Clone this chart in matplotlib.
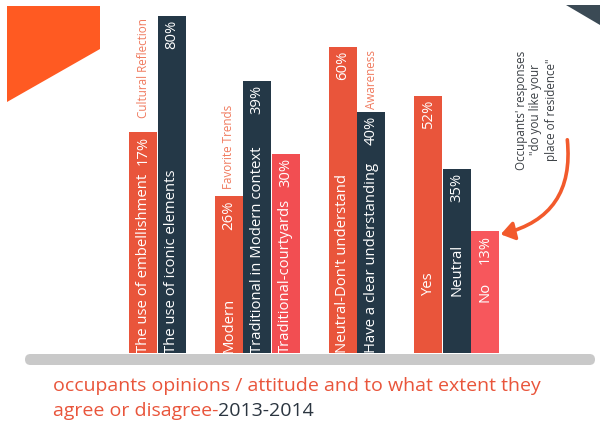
import matplotlib
matplotlib.use("Agg")
import matplotlib.pyplot as plt
from matplotlib.patches import Polygon, FancyBboxPatch, FancyArrowPatch

# ---------------- data ----------------
group_names = ["Cultural Reflection", "Favorite Trends", "Awareness"]
bar_names = ["The use of embellishment", "The use of iconic elements",
             "Modern", "Traditional in Modern context", "Traditional-courtyards",
             "Neutral-Don't understand", "Have a clear understanding",
             "Yes", "Neutral", "No"]
percent_labels = ["17%", "80%", "26%", "39%", "30%", "60%", "40%", "52%", "35%", "13%"]
# visual bar lengths as drawn in the infographic (not proportional to %)
bar_lengths = [221, 337, 157, 272, 199, 306, 241, 257, 184, 122]
bar_slots = [0, 1, 3, 4, 5, 7, 8, 10, 11, 12]
name_lift = [1, 1, 1, 1, 1, 1, 1, 58, 58, 52]
group_label_bar = [0, 2, 6]
group_label_gap = [15, 8, 4]
caption_1 = "occupants opinions / attitude and to what extent they"
caption_2a = "agree or disagree-"
caption_2b = "2013-2014"
annotation = "Occupants' responses\n\"do you like your\nplace of residence\""

ORANGE = "#E9553B"
DARK = "#243847"
RED = "#F24E52"
bar_colors = [ORANGE, DARK, ORANGE, DARK, RED, ORANGE, DARK, ORANGE, DARK, "#F7575C"]

FONT = "Open Sans"

W, H = 600, 427
fig = plt.figure(figsize=(6, 4.27), dpi=100)

# background / decoration axes in pixel coordinates
bg = fig.add_axes([0, 0, 1, 1], zorder=0)
bg.set_xlim(0, W)
bg.set_ylim(H, 0)
bg.axis("off")

bg.add_patch(Polygon([(7, 7), (100, 7), (100, 50), (7, 103)], closed=True,
                     color="#FF5A22", lw=0))
bg.add_patch(Polygon([(566, 6), (600, 6), (600, 26)], closed=True,
                     color="#3B4A55", lw=0))
bg.add_patch(FancyBboxPatch((25, 355), 570, 11,
                            boxstyle="round,pad=0,rounding_size=5.5",
                            color="#C9C9C9", lw=0))

# bar axes
base_px = 354
px_per_slot = 28.5
first_center = 143.25
ax = fig.add_axes([0, (H - base_px) / H, 1, base_px / H], zorder=1)
ax.patch.set_alpha(0)
ax.set_xlim(-first_center / px_per_slot, (W - first_center) / px_per_slot)
ax.set_ylim(0, base_px)
ax.axis("off")

ax.bar(bar_slots, bar_lengths, width=0.98, color=bar_colors, linewidth=0)

for s, L, name, pct, lift in zip(bar_slots, bar_lengths, bar_names,
                                 percent_labels, name_lift):
    ax.text(s, lift, name, rotation=90, ha="center", va="bottom",
            color="white", fontsize=10.7, family=FONT)
    ax.text(s, L - 3, pct, rotation=90, ha="center", va="top",
            color="white", fontsize=10.7, family=FONT)

for gname, bi, gap in zip(group_names, group_label_bar, group_label_gap):
    ax.text(bar_slots[bi], bar_lengths[bi] + gap, gname, rotation=90,
            ha="center", va="bottom", color="#F07A5E", fontsize=8.4, family=FONT)

# annotation + arrow
bg.text(536, 110, annotation, rotation=90, ha="center", va="center",
        multialignment="center", color="#3A3F44", fontsize=8.4, family=FONT,
        linespacing=1.2)
arrow = FancyArrowPatch((567, 138), (498, 236), transform=bg.transData,
                        connectionstyle="arc3,rad=-0.45",
                        arrowstyle="-|>,head_length=8,head_width=5.5",
                        color="#F25A2C", lw=2.6, zorder=5)
ax.add_artist(arrow)

# caption
t1 = bg.text(53, 386, caption_1, ha="left", va="center", color=ORANGE,
             fontsize=14, family=FONT)
t2 = bg.text(53, 411, caption_2a, ha="left", va="center", color=ORANGE,
             fontsize=14, family=FONT)
bg.annotate(caption_2b, xy=(1, 0), xycoords=t2, ha="left", va="bottom",
            color="#2B3540", fontsize=14, family=FONT)

fig.savefig("out.png", dpi=100)
